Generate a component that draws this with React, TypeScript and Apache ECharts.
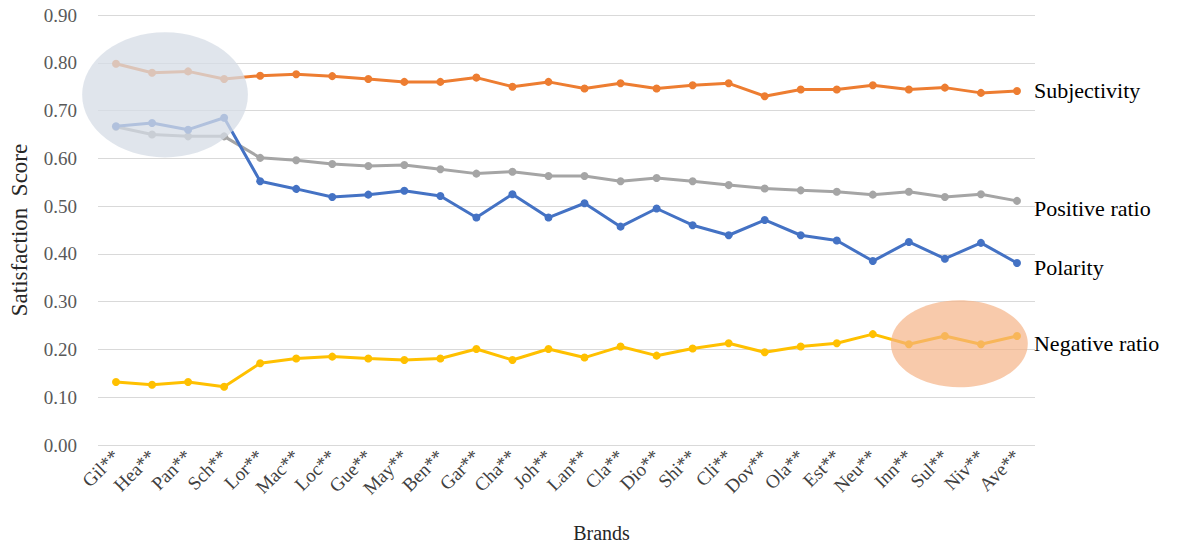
import React, { useEffect, useRef } from "react";
import * as echarts from "echarts";

const brands = ["Gil**", "Hea**", "Pan**", "Sch**", "Lor**", "Mac**", "Loc**", "Gue**", "May**", "Ben**", "Gar**", "Cha**", "Joh**", "Lan**", "Cla**", "Dio**", "Shi**", "Cli**", "Dov**", "Ola**", "Est**", "Neu**", "Inn**", "Sul**", "Niv**", "Ave**"];

const subjectivity = [0.798, 0.779, 0.782, 0.766, 0.773, 0.776, 0.772, 0.766, 0.760, 0.760, 0.769, 0.750, 0.760, 0.746, 0.757, 0.746, 0.753, 0.757, 0.730, 0.744, 0.744, 0.753, 0.744, 0.748, 0.737, 0.741];
const positiveRatio = [0.666, 0.650, 0.646, 0.646, 0.601, 0.596, 0.588, 0.584, 0.586, 0.577, 0.568, 0.572, 0.563, 0.563, 0.552, 0.559, 0.552, 0.544, 0.537, 0.533, 0.530, 0.524, 0.530, 0.519, 0.525, 0.511];
const polarity = [0.667, 0.674, 0.660, 0.685, 0.552, 0.536, 0.519, 0.524, 0.532, 0.521, 0.476, 0.525, 0.476, 0.506, 0.457, 0.495, 0.460, 0.439, 0.471, 0.439, 0.428, 0.385, 0.425, 0.390, 0.423, 0.381];
const negativeRatio = [0.132, 0.126, 0.132, 0.122, 0.171, 0.181, 0.185, 0.181, 0.178, 0.181, 0.201, 0.178, 0.201, 0.183, 0.206, 0.187, 0.202, 0.213, 0.194, 0.206, 0.213, 0.232, 0.211, 0.228, 0.211, 0.228];

const yTicks = { min: 0, max: 0.9, interval: 0.1 };

const FONT = "'Liberation Serif', 'Times New Roman', serif";

export default function App() {
  const ref = useRef<HTMLDivElement>(null);
  useEffect(() => {
    if (!ref.current) return;
    const chart = echarts.init(ref.current, undefined, { renderer: "svg" });
    const mk = (name: string, data: number[], color: string, offY: number) => ({
      name,
      type: "line",
      data,
      symbol: "circle",
      symbolSize: 8,
      itemStyle: { color },
      lineStyle: { color, width: 3 },
      z: 2,
      endLabel: {
        show: true,
        formatter: "{a}",
        distance: 17,
        offset: [0, offY],
        fontFamily: FONT,
        fontSize: 22,
        color: "#000",
      },
    });
    chart.setOption({
      animation: false,
      backgroundColor: "#fff",
      grid: { left: 98, right: 145, top: 15, bottom: 105, containLabel: false, outerBoundsMode: "none" },
      xAxis: {
        type: "category",
        data: brands,
        boundaryGap: true,
        axisLine: { show: false },
        axisTick: { show: false },
        axisLabel: { rotate: 45, fontFamily: FONT, fontSize: 19, color: "#404040", margin: 8 },
        name: "Brands",
        nameLocation: "middle",
        nameGap: 78,
        nameTextStyle: { fontFamily: FONT, fontSize: 20, color: "#262626", padding: [0, 0, 0, 70] },
      },
      yAxis: {
        type: "value",
        min: yTicks.min,
        max: yTicks.max,
        interval: yTicks.interval,
        axisLabel: { fontFamily: FONT, fontSize: 19, color: "#595959", margin: 21, formatter: (v: number) => v.toFixed(2) },
        splitLine: { lineStyle: { color: "#d9d9d9", width: 1 } },
        name: "Satisfaction  Score",
        nameLocation: "middle",
        nameGap: 67,
        nameTextStyle: { fontFamily: FONT, fontSize: 23, color: "#262626" },
      },
      series: [
        mk("Subjectivity", subjectivity, "#ED7D31", 0),
        mk("Positive ratio", positiveRatio, "#A5A5A5", 8),
        mk("Polarity", polarity, "#4472C4", 5),
        mk("Negative ratio", negativeRatio, "#FFC000", 7),
      ],
    });
    const px = (i: number, v: number) => chart.convertToPixel({ gridIndex: 0 }, [i, v]) as number[];
    const p0 = px(0, 0);
    const p1 = px(1, 0.1);
    const band = p1[0] - p0[0];
    const unit = p0[1] - p1[1];
    const ell = (ci: number, cv: number, rxB: number, ryV: number, color: string, opacity: number) => {
      const c = px(0, cv);
      return {
        type: "ellipse",
        shape: { cx: c[0] + band * ci, cy: c[1], rx: band * rxB, ry: unit * ryV * 10 },
        style: { fill: color, opacity },
        z: 10,
        silent: true,
      };
    };
    chart.setOption({
      graphic: [
        ell(1.36, 0.733, 2.3, 0.131, "#D6DCE5", 0.75),
        ell(23.4, 0.212, 1.9, 0.091, "#F4B183", 0.68),
      ],
    });
    return () => chart.dispose();
  }, []);
  return <div ref={ref} style={{ width: 1180, height: 550, margin: -8 }} />;
}
